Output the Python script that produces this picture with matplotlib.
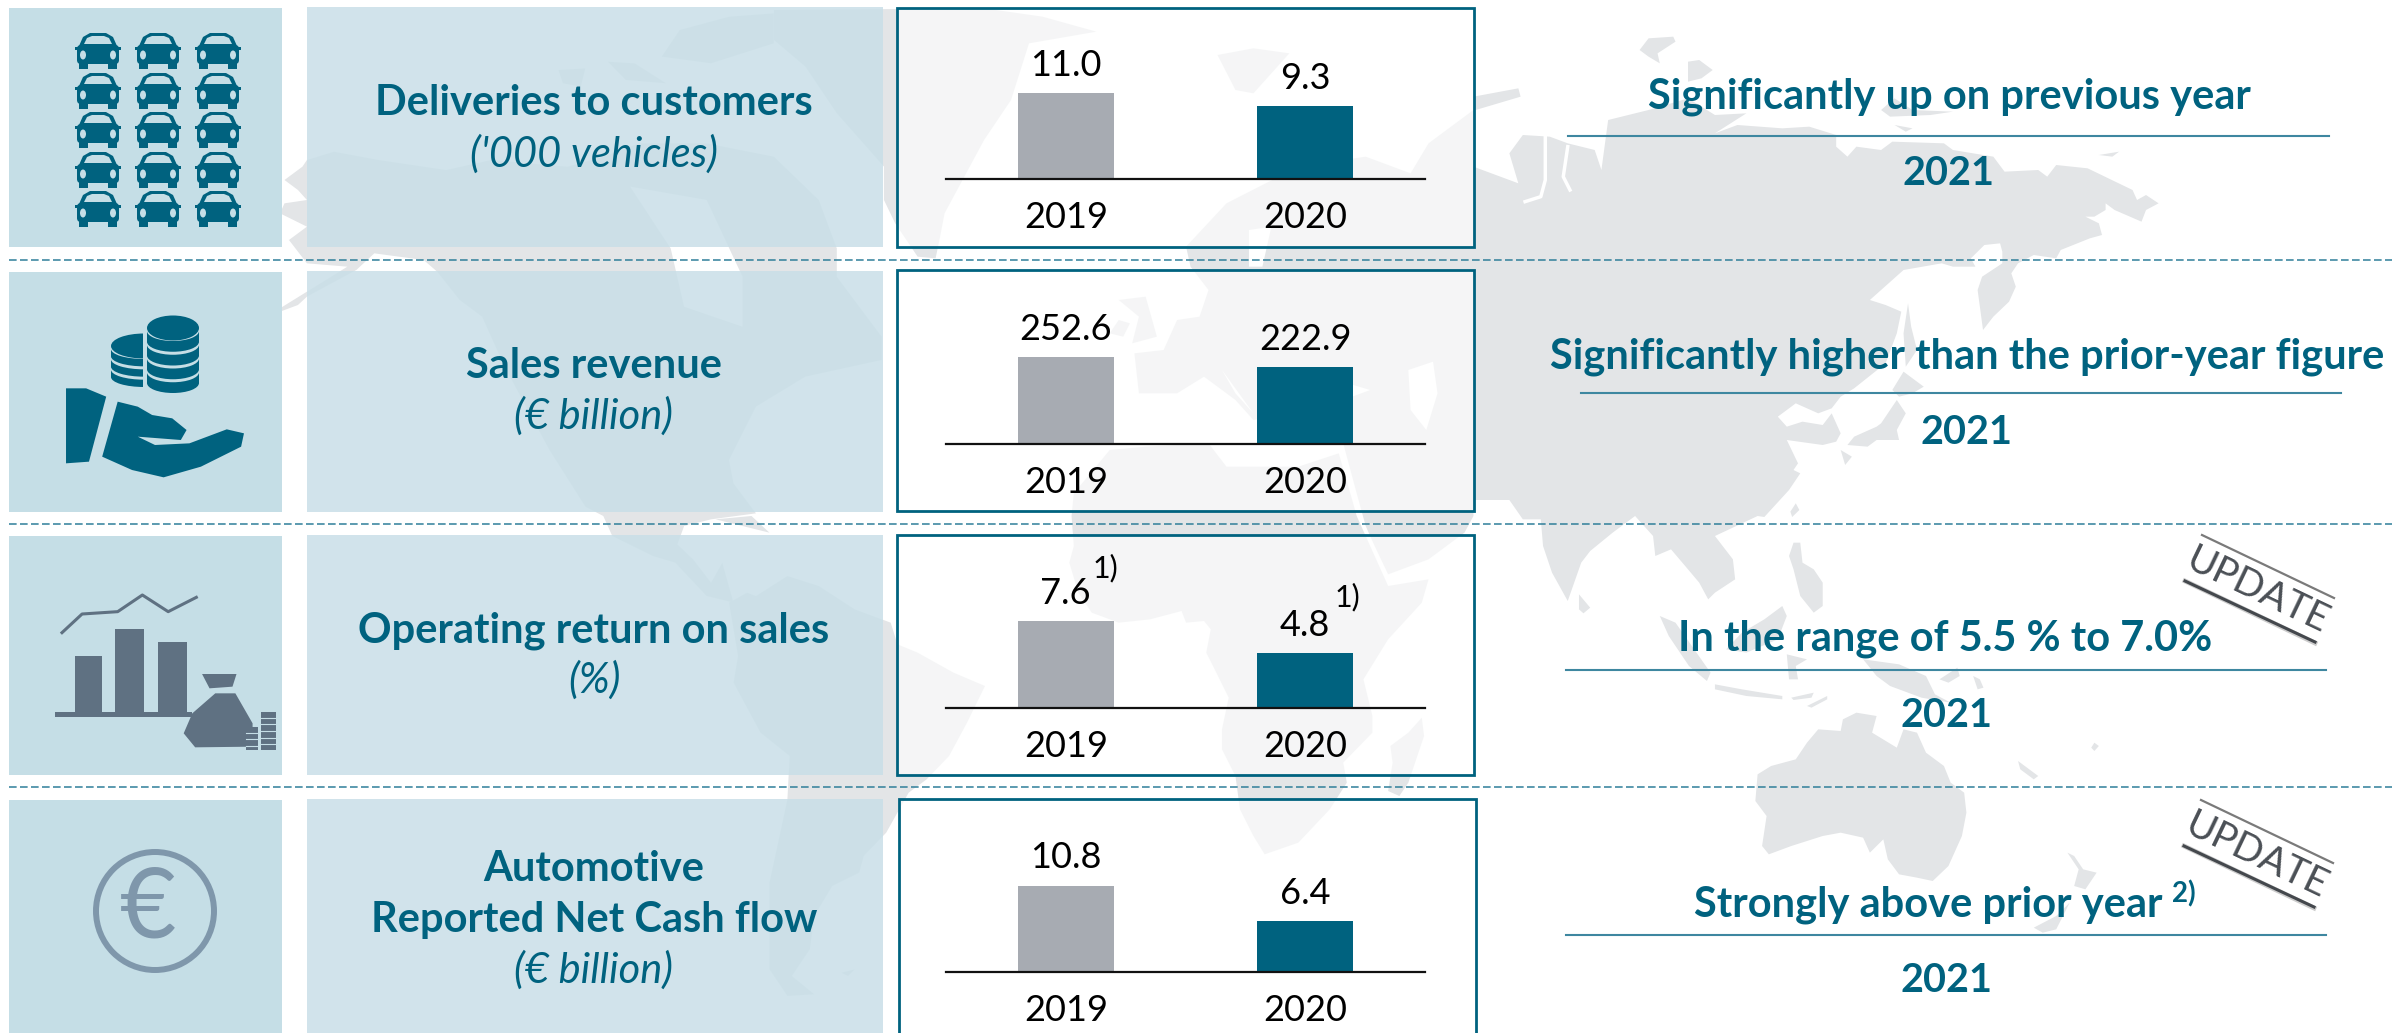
import matplotlib
matplotlib.use('Agg')
import matplotlib.pyplot as plt
from matplotlib.patches import Polygon, Rectangle, Ellipse, FancyBboxPatch, Circle

W, H, DPI = 2392, 1033, 100
plt.rcParams['font.family'] = ['Lato', 'DejaVu Sans']

# data
years = ['2019', '2020']
deliveries = [11.0, 9.3]
revenue = [252.6, 222.9]
op_return = [7.6, 4.8]
cash_flow = [10.8, 6.4]
value_labels = [['11.0', '9.3'], ['252.6', '222.9'], ['7.6', '4.8'], ['10.8', '6.4']]
outlook = ['Significantly up on previous year', 'Significantly higher than the prior-year figure',
           'In the range of 5.5 % to 7.0%', 'Strongly above prior year']
outlook_year = '2021'

TEAL = '#00627F'
GREY_BAR = '#A7ABB2'
LAND = '#E3E5E7'
ICON_BG = '#C5DEE6'
SLATE = '#5F7182'
CIRCLE = '#7F97AB'

fig = plt.figure(figsize=(W / DPI, H / DPI), dpi=DPI, facecolor='white')
bg = fig.add_axes([0, 0, 1, 1], zorder=0)
bg.set_xlim(0, W)
bg.set_ylim(H, 0)
bg.axis('off')


def z(col, row, pts):
    return [(280 + col * 704 + a / 2.227, row * 516 + b / 3) for a, b in pts]


def land(pts, color=LAND, zo=1):
    bg.add_patch(Polygon(pts, closed=True, fc=color, ec='none', zorder=zo))


eurasia = z(1, 0, [(345, 1180), (335, 1060), (400, 1050), (430, 960), (480, 950), (500, 870), (460, 800),
                   (450, 740), (540, 610), (700, 500), (850, 470), (950, 520), (990, 430), (1090, 330),
                   (1090, 500), (1190, 550), (1170, 460), (1200, 405), (1260, 410), (1300, 430), (1360, 450),
                   (1375, 510), (1390, 360), (1480, 330), (1568, 295)]) + \
    z(2, 0, [(60, 345), (130, 340), (60, 400), (110, 375), (210, 385), (270, 380), (330, 405), (330, 440),
             (355, 470), (375, 440), (430, 450), (455, 425), (570, 430), (590, 450), (680, 470), (705, 515),
             (780, 510), (800, 530), (820, 495), (890, 505), (990, 570), (1000, 600), (1020, 585), (1048, 610),
             (1020, 630), (1010, 665), (950, 630), (930, 610), (930, 630), (905, 650), (885, 650), (915, 670),
             (922, 705), (895, 715), (830, 750), (820, 775), (770, 765), (735, 790), (720, 820), (730, 860),
             (715, 905), (680, 950), (657, 990), (645, 870), (655, 830), (700, 790), (700, 755), (695, 730),
             (660, 735), (630, 775), (640, 800), (590, 800), (565, 790), (480, 810), (405, 900), (440, 915),
             (475, 935), (465, 1000), (440, 1090), (370, 1165), (340, 1190), (320, 1225), (290, 1240),
             (240, 1210), (200, 1250), (220, 1280), (255, 1265), (300, 1275), (320, 1240), (340, 1300),
             (330, 1325), (300, 1335), (220, 1320), (245, 1390), (235, 1410), (250, 1420), (225, 1470),
             (170, 1551)]) + \
    z(2, 1, [(155, 0), (60, 60), (100, 130), (105, 190), (60, 230), (45, 250), (25, 200), (0, 160)]) + \
    z(1, 1, [(1530, 100), (1495, 120), (1490, 60), (1450, 0), (1400, 50), (1350, 105), (1330, 140), (1300, 255),
             (1265, 170), (1245, 90), (1240, 10), (1200, 10)]) + \
    z(1, 0, [(1170, 1500), (1090, 1500)]) + \
    z(1, 1, [(1090, 0), (1070, 50), (990, 130), (900, 175), (870, 90), (850, 30)]) + \
    z(1, 0, [(830, 1480), (800, 1330), (700, 1300), (680, 1240), (600, 1260), (560, 1200), (490, 1130), (430, 1180)])
land(eurasia)

africa = z(1, 0, [(195, 1548), (200, 1480), (280, 1350), (360, 1340), (500, 1330), (540, 1400), (700, 1400),
                  (790, 1360), (820, 1500)]) + \
    z(1, 1, [(830, 0), (860, 90), (900, 210), (990, 190), (975, 260), (900, 370), (845, 490), (865, 600), (865, 650),
             (800, 740), (808, 800), (770, 880), (700, 980), (625, 1015), (600, 960), (570, 880), (560, 780),
             (530, 700), (530, 640), (545, 545), (510, 450), (495, 410), (505, 340), (490, 315), (450, 320),
             (440, 285), (370, 310), (300, 320), (240, 290), (210, 230), (190, 140), (200, 90)])
land(africa)

n_america = z(0, 0, [(10, 540), (50, 500), (60, 480), (120, 455), (220, 480), (370, 510), (470, 480), (640, 500),
                     (720, 470), (800, 430), (950, 430), (1100, 470), (1200, 600), (1240, 745), (1240, 830),
                     (1340, 1010), (1340, 1080), (1170, 1130), (1060, 1220), (1000, 1380), (1010, 1450),
                     (1060, 1540)]) + \
    z(0, 1, [(960, 10), (900, 30), (885, 85), (920, 130), (960, 200), (985, 140), (1010, 260), (950, 240),
             (880, 140), (830, 120), (740, 60), (720, 0)]) + \
    z(0, 0, [(680, 1520), (600, 1350), (500, 1100), (450, 950), (400, 900), (350, 815), (320, 780), (210, 760),
             (170, 810), (60, 890), (40, 915), (0, 935), (0, 925), (150, 800), (60, 790), (20, 720), (60, 680),
             (0, 640), (10, 610), (60, 600), (40, 570)])
land(n_america)

s_america = z(0, 1, [(1000, 260), (1040, 230), (1060, 240), (1130, 180), (1200, 210), (1280, 280), (1360, 320),
                     (1375, 385), (1420, 410), (1500, 470), (1570, 510), (1530, 620), (1490, 720), (1440, 790),
                     (1400, 830), (1350, 950), (1300, 1020), (1290, 1070), (1230, 1110), (1190, 1200), (1180, 1300),
                     (1140, 1380), (1190, 1435), (1130, 1440), (1090, 1360), (1090, 1100), (1130, 850), (1135, 720),
                     (1070, 650), (1010, 500), (1020, 420)])
land(s_america)

greenland = z(0, 0, [(1100, 30), (1568, 25), (1698, 50), (1818, 95), (1668, 130), (1628, 300), (1568, 420),
                     (1480, 640), (1470, 710), (1460, 775), (1420, 770), (1370, 670), (1345, 600), (1345, 500),
                     (1240, 340), (1170, 200), (1100, 120)])
land(greenland)

arctic = z(0, 0, [(890, 90), (1000, 50), (1100, 40), (1100, 130), (960, 190), (850, 170)])
land(arctic)
land(z(0, 0, [(620, 210), (680, 205), (670, 260), (630, 250)]))
land(z(0, 0, [(730, 185), (790, 190), (860, 250), (770, 240)]))

australia = z(2, 1, [(155, 775), (185, 750), (240, 730), (265, 680), (290, 640), (340, 645), (345, 610), (375, 590),
                     (420, 600), (410, 650), (465, 695), (480, 640), (510, 650), (530, 710), (570, 750), (585, 800),
                     (615, 830), (620, 890), (610, 960), (580, 1050), (545, 1095), (510, 1085), (470, 1075),
                     (445, 1030), (435, 970), (405, 1010), (390, 965), (340, 950), (300, 960), (230, 990),
                     (180, 1015), (165, 990), (175, 900), (150, 855)])
land(australia)

islands = [
    z(1, 0, [(1090, 290), (1190, 265), (1195, 290), (1095, 330)]),
    z(1, 0, [(1460, 150), (1480, 115), (1535, 110), (1540, 125), (1500, 160), (1505, 190), (1480, 170)]),
    z(1, 0, [(520, 165), (600, 145), (680, 160), (600, 280), (560, 270)]),
    z(1, 0, [(300, 900), (360, 890), (385, 1010), (330, 1030), (345, 950)]),
    z(1, 0, [(300, 960), (325, 970), (310, 1010), (280, 1000)]),
    z(2, 0, [(0, 185), (25, 180), (55, 210), (30, 235), (0, 245)]),
    z(2, 0, [(430, 330), (460, 295), (500, 330), (590, 335), (540, 345), (450, 350)]),
    z(2, 0, [(460, 375), (500, 385), (485, 395)]),
    z(2, 0, [(915, 465), (960, 455), (945, 470)]),
    z(2, 0, [(490, 910), (497, 980), (510, 1050), (485, 1100), (480, 1000)]),
    z(2, 0, [(480, 1115), (525, 1160), (500, 1180), (470, 1190), (455, 1170)]),
    z(2, 0, [(465, 1200), (485, 1240), (465, 1290), (470, 1320), (420, 1320), (400, 1340), (355, 1335), (370, 1310),
             (420, 1280), (430, 1270)]),
    z(2, 0, [(340, 1350), (365, 1370), (350, 1395)]),
    z(2, 0, [(240, 1510), (248, 1530), (232, 1551), (228, 1535)]),
    z(1, 1, [(1325, 235), (1350, 275), (1335, 292), (1325, 280)]),
    z(1, 1, [(1505, 300), (1540, 320), (1618, 470), (1610, 495), (1570, 450), (1525, 360)]),
    z(1, 1, [(975, 605), (980, 660), (945, 800), (925, 840), (900, 825), (910, 740), (905, 690), (945, 650)]),
    z(2, 1, [(235, 80), (250, 80), (255, 140), (280, 160), (300, 200), (300, 270), (280, 290), (250, 240), (235, 160),
             (225, 120)]),
    z(2, 1, [(210, 270), (220, 300), (200, 370), (130, 410), (85, 400), (120, 350), (170, 310)]),
    z(2, 1, [(60, 505), (120, 520), (210, 540), (210, 550), (130, 540), (60, 520)]),
    z(2, 1, [(230, 545), (280, 530), (275, 545), (235, 552)]),
    z(2, 1, [(265, 570), (310, 540), (310, 550), (275, 575)]),
    z(2, 1, [(220, 415), (265, 430), (240, 450), (245, 490), (225, 490)]),
    z(2, 1, [(390, 430), (470, 445), (530, 480), (550, 535), (585, 560), (520, 545), (450, 510), (420, 480)]),
    z(2, 1, [(560, 490), (600, 455), (605, 480), (580, 500)]),
    z(2, 1, [(635, 480), (650, 490), (658, 515), (645, 520)]),
    z(2, 1, [(845, 1010), (860, 1020), (880, 1060), (910, 1070), (885, 1120), (860, 1110), (870, 1060)]),
    z(2, 1, [(850, 1160), (820, 1240), (790, 1250), (770, 1235), (820, 1200)]),
    z(2, 1, [(735, 735), (780, 780), (770, 790), (740, 760)]),
    z(2, 1, [(905, 680), (915, 690), (905, 705), (898, 695)]),
    z(0, 1, [(970, 10), (1050, 0), (1090, 50), (1030, 30)]),
    z(0, 1, [(1250, 1370), (1280, 1360), (1265, 1380)]),
]
for pts in islands:
    land(pts)

# seas cut out of the land
for pts in [z(1, 0, [(945, 1110), (1000, 1085), (1010, 1180), (985, 1290), (950, 1230)]),
            z(1, 0, [(690, 1170), (760, 1130), (860, 1170), (780, 1210), (690, 1210)]),
            z(1, 0, [(530, 1110), (600, 1240), (560, 1180)]),
            z(1, 0, [(590, 690), (640, 680), (620, 800), (590, 800)]),
            z(0, 0, [(780, 560), (950, 600), (1030, 830), (1030, 980), (900, 920), (870, 745)])]:
    land(pts, 'white', 2)
for pts in [[(1250, 410), (1250, 540), (1240, 590), (1205, 605)], [(1305, 570), (1290, 530), (1300, 440)]]:
    xs, ys = zip(*z(1, 0, pts))
    bg.plot(xs, ys, color='white', lw=2.5, zorder=2)

# icon and label panels
rows_top = [8, 272, 536, 800]
rows_bot = [247, 512, 775, 1045]
for t, b in zip(rows_top, rows_bot):
    bg.add_patch(Rectangle((9, t), 273, b - t, fc=ICON_BG, ec='none', zorder=3))
    bg.add_patch(Rectangle((307, t - 1), 576, b - t + 1, fc=(201 / 255, 223 / 255, 232 / 255, 0.85), ec='none', zorder=3))

for y in [260, 524, 787]:
    bg.plot([9, W], [y, y], color='#2F7F9A', lw=1.1, dashes=(5, 2.2), zorder=3)

# left titles
labels = [
    [('Deliveries to customers', 115, 'bold'), ("('000 vehicles)", 167, 'italic')],
    [('Sales revenue', 378, 'bold'), ('(€ billion)', 429, 'italic')],
    [('Operating return on sales', 643, 'bold'), ('(%)', 693, 'italic')],
    [('Automotive', 881, 'bold'), ('Reported Net Cash flow', 932, 'bold'), ('(€ billion)', 983, 'italic')],
]
for group in labels:
    for txt, base, kind in group:
        if kind == 'bold':
            bg.text(594, base, txt, ha='center', va='baseline', color=TEAL, fontsize=30, fontweight='bold', zorder=5)
        else:
            bg.text(594, base, txt, ha='center', va='baseline', color=TEAL, fontsize=30, style='italic', zorder=5)

# chart frames and bars
frames = [(897, 8, 1474, 247), (897, 270, 1474, 511), (897, 535, 1474, 775), (899, 799, 1476, 1045)]
baselines = [179, 444, 708, 972]
bar_px = [86, 87, 87, 86]
series = [deliveries, revenue, op_return, cash_flow]
for (x0, y0, x1, y1) in frames:
    bg.add_patch(Rectangle((x0, y0), x1 - x0, y1 - y0, fc=(1, 1, 1, 0.65), ec=TEAL, lw=2.0, zorder=3))

for vals, names, base, px in zip(series, value_labels, baselines, bar_px):
    ax = fig.add_axes([946 / W, 1 - base / H, 479 / W, 150 / H], zorder=2)
    ax.patch.set_visible(False)
    ax.bar([0, 1], vals, width=0.4, color=[GREY_BAR, TEAL])
    ax.set_xlim(-0.5, 1.5)
    ax.set_ylim(0, max(vals) * 150 / px)
    for s in ['top', 'right', 'left']:
        ax.spines[s].set_visible(False)
    ax.spines['bottom'].set_linewidth(1.6)
    ax.spines['bottom'].set_color('#111111')
    ax.set_yticks([])
    ax.set_xticks([0, 1])
    ax.set_xticklabels(years, fontsize=26, color='black')
    ax.tick_params(axis='x', length=0, pad=35)
    for lab in ax.get_xticklabels():
        lab.set_va('baseline')
    for i, v in enumerate(vals):
        ax.annotate(names[i], (i, v), xytext=(0, 12.6), textcoords='offset points', ha='center', va='baseline',
                    fontsize=26, color='black')

bg.text(1105, 568, '1)', ha='center', va='center', fontsize=22, color='black', zorder=5)
bg.text(1347, 597, '1)', ha='center', va='center', fontsize=22, color='black', zorder=5)

# right column
right_x = [1949, 1967, 1945, 1928]
right_base = [108, 368, 650, 916]
rule_x = [(1568, 2329), (1581, 2341), (1566, 2326), (1566, 2326)]
rule_y = [136, 393, 670, 935]
year_x = [1948, 1967, 1946, 1946]
year_base = [185, 444, 727, 992]
for i in range(4):
    bg.text(right_x[i], right_base[i], outlook[i], ha='center', va='baseline', color=TEAL, fontsize=30,
            fontweight='bold', zorder=5)
    bg.plot(rule_x[i], [rule_y[i], rule_y[i]], color='#3E87A0', lw=1.5, zorder=5)
    bg.text(year_x[i], year_base[i], outlook_year, ha='center', va='baseline', color=TEAL, fontsize=28.5,
            fontweight='bold', zorder=5)
bg.text(2184, 894, '2)', ha='center', va='center', color=TEAL, fontsize=20, fontweight='bold', zorder=5)

# update stamps
for dy, dx in [(0, 0), (265, -1)]:
    bg.text(2258 + dx, 591 + dy, 'UPDATE', ha='center', va='center', rotation=-25.5, rotation_mode='anchor',
            fontsize=28, color='#4A4F55', zorder=6)
    bg.plot([2202 + dx, 2334 + dx], [535 + dy, 598 + dy], color='#7A7A7A', lw=1.6, zorder=6)
    bg.plot([2185 + dx, 2315 + dx], [581 + dy, 643 + dy], color='#CCCCCC', lw=3.5, zorder=5)
    bg.plot([2185 + dx, 2315 + dx], [581 + dy, 642 + dy], color='#44484D', lw=2.2, zorder=6)


# icons, coordinates from the crop of the left column
def ic(pts, y0=0):
    return [(a / 1.742, y0 + b / 3) for a, b in pts]


def draw_car(cx, cy):
    bg.add_patch(Polygon([(cx - 19, cy - 5), (cx - 15, cy - 14), (cx - 8, cy - 18), (cx + 8, cy - 18), (cx + 15, cy - 14),
                          (cx + 19, cy - 5)], fc=TEAL, ec='none', zorder=4))
    bg.add_patch(Polygon([(cx - 14, cy - 7), (cx - 11, cy - 13), (cx - 6, cy - 15), (cx + 6, cy - 15), (cx + 11, cy - 13),
                          (cx + 14, cy - 7)], fc=ICON_BG, ec='none', zorder=4))
    bg.add_patch(FancyBboxPatch((cx - 21, cy - 6), 42, 19, boxstyle='round,pad=0,rounding_size=4', fc=TEAL, ec='none', zorder=4))
    bg.add_patch(Rectangle((cx - 19, cy + 12), 9, 6, fc=TEAL, ec='none', zorder=4))
    bg.add_patch(Rectangle((cx + 10, cy + 12), 9, 6, fc=TEAL, ec='none', zorder=4))
    bg.add_patch(Rectangle((cx - 23, cy - 4), 46, 3, fc=TEAL, ec='none', zorder=4))
    for sx in (-15, 15):
        bg.add_patch(Ellipse((cx + sx, cy + 4), 6, 9, fc=ICON_BG, ec='none', zorder=4.5))


for cx in [98, 158, 218]:
    for cy in [51, 91, 130, 170, 209]:
        draw_car(cx, cy)


def coin_stack(cx, w, top_y, bottom_y, n, zo):
    step = (bottom_y - top_y) / n
    for k in range(n, 0, -1):
        yy = top_y + k * step
        bg.add_patch(Ellipse((cx, yy), w, 20, fc=TEAL, ec='none', zorder=zo))
        bg.add_patch(Rectangle((cx - w / 2, yy - step + 3), w, step - 3, fc=TEAL, ec='none', zorder=zo))
        bg.add_patch(Ellipse((cx, yy - step + 3), w, 20, fc=ICON_BG, ec='none', zorder=zo))
        zo += 0.01
    bg.add_patch(Ellipse((cx, top_y), w, 25, fc=TEAL, ec='none', zorder=zo))


coin_stack(144, 66, 346, 377, 3, 4)
bg.add_patch(Rectangle((143, 320), 60, 80, fc=ICON_BG, ec='none', zorder=4.2))
coin_stack(173, 52, 328, 383, 4, 4.3)

bg.add_patch(Polygon(ic([(115, 1165), (150, 1165), (185, 1190), (155, 1385), (115, 1390)]), fc=TEAL, ec='none', zorder=4))
bg.add_patch(Polygon(ic([(205, 1205), (240, 1220), (265, 1245), (300, 1255), (325, 1290), (315, 1320), (240, 1310),
                         (270, 1335), (330, 1330), (395, 1288), (425, 1300), (420, 1340), (350, 1400), (285, 1432),
                         (230, 1410), (178, 1370)]), fc=TEAL, ec='none', zorder=4))

# operating return icon
xs, ys = zip(*ic([(108, 338), (143, 282), (205, 275), (248, 225), (293, 275), (342, 232)], 520))
bg.plot(xs, ys, color=SLATE, lw=2.2, zorder=4)
for a, b, top in [(130, 178, 408), (200, 250, 326), (275, 325, 367)]:
    bg.add_patch(Polygon(ic([(a, top), (b, top), (b, 580), (a, 580)], 520), fc=SLATE, ec='none', zorder=4))
bg.add_patch(Polygon(ic([(95, 575), (335, 575), (335, 590), (95, 590)], 520), fc=SLATE, ec='none', zorder=4))
bg.add_patch(Polygon(ic([(375, 520), (410, 520), (440, 610), (440, 680), (340, 682), (320, 640), (335, 580)], 520),
                     fc=SLATE, ec='none', zorder=4))
bg.add_patch(Polygon(ic([(352, 462), (412, 462), (405, 500), (365, 505)], 520), fc=SLATE, ec='none', zorder=4))
for a, b, top in [(428, 450, 620), (455, 480, 575)]:
    bg.add_patch(Polygon(ic([(a, top), (b, top), (b, 690), (a, 690)], 520), fc=SLATE, ec='none', zorder=4))
    yy = top + 18
    while yy < 690:
        xs, ys = zip(*ic([(a, yy), (b, yy)], 520))
        bg.plot(xs, ys, color=ICON_BG, lw=0.8, zorder=4.2)
        yy += 20

# euro icon
bg.add_patch(Circle((155, 911), 59, fc='none', ec=CIRCLE, lw=4.3, zorder=4))
bg.text(148, 911, '€', ha='center', va='center', fontsize=70, color=CIRCLE, zorder=4)

fig.savefig('out.png', dpi=DPI, facecolor='white')
